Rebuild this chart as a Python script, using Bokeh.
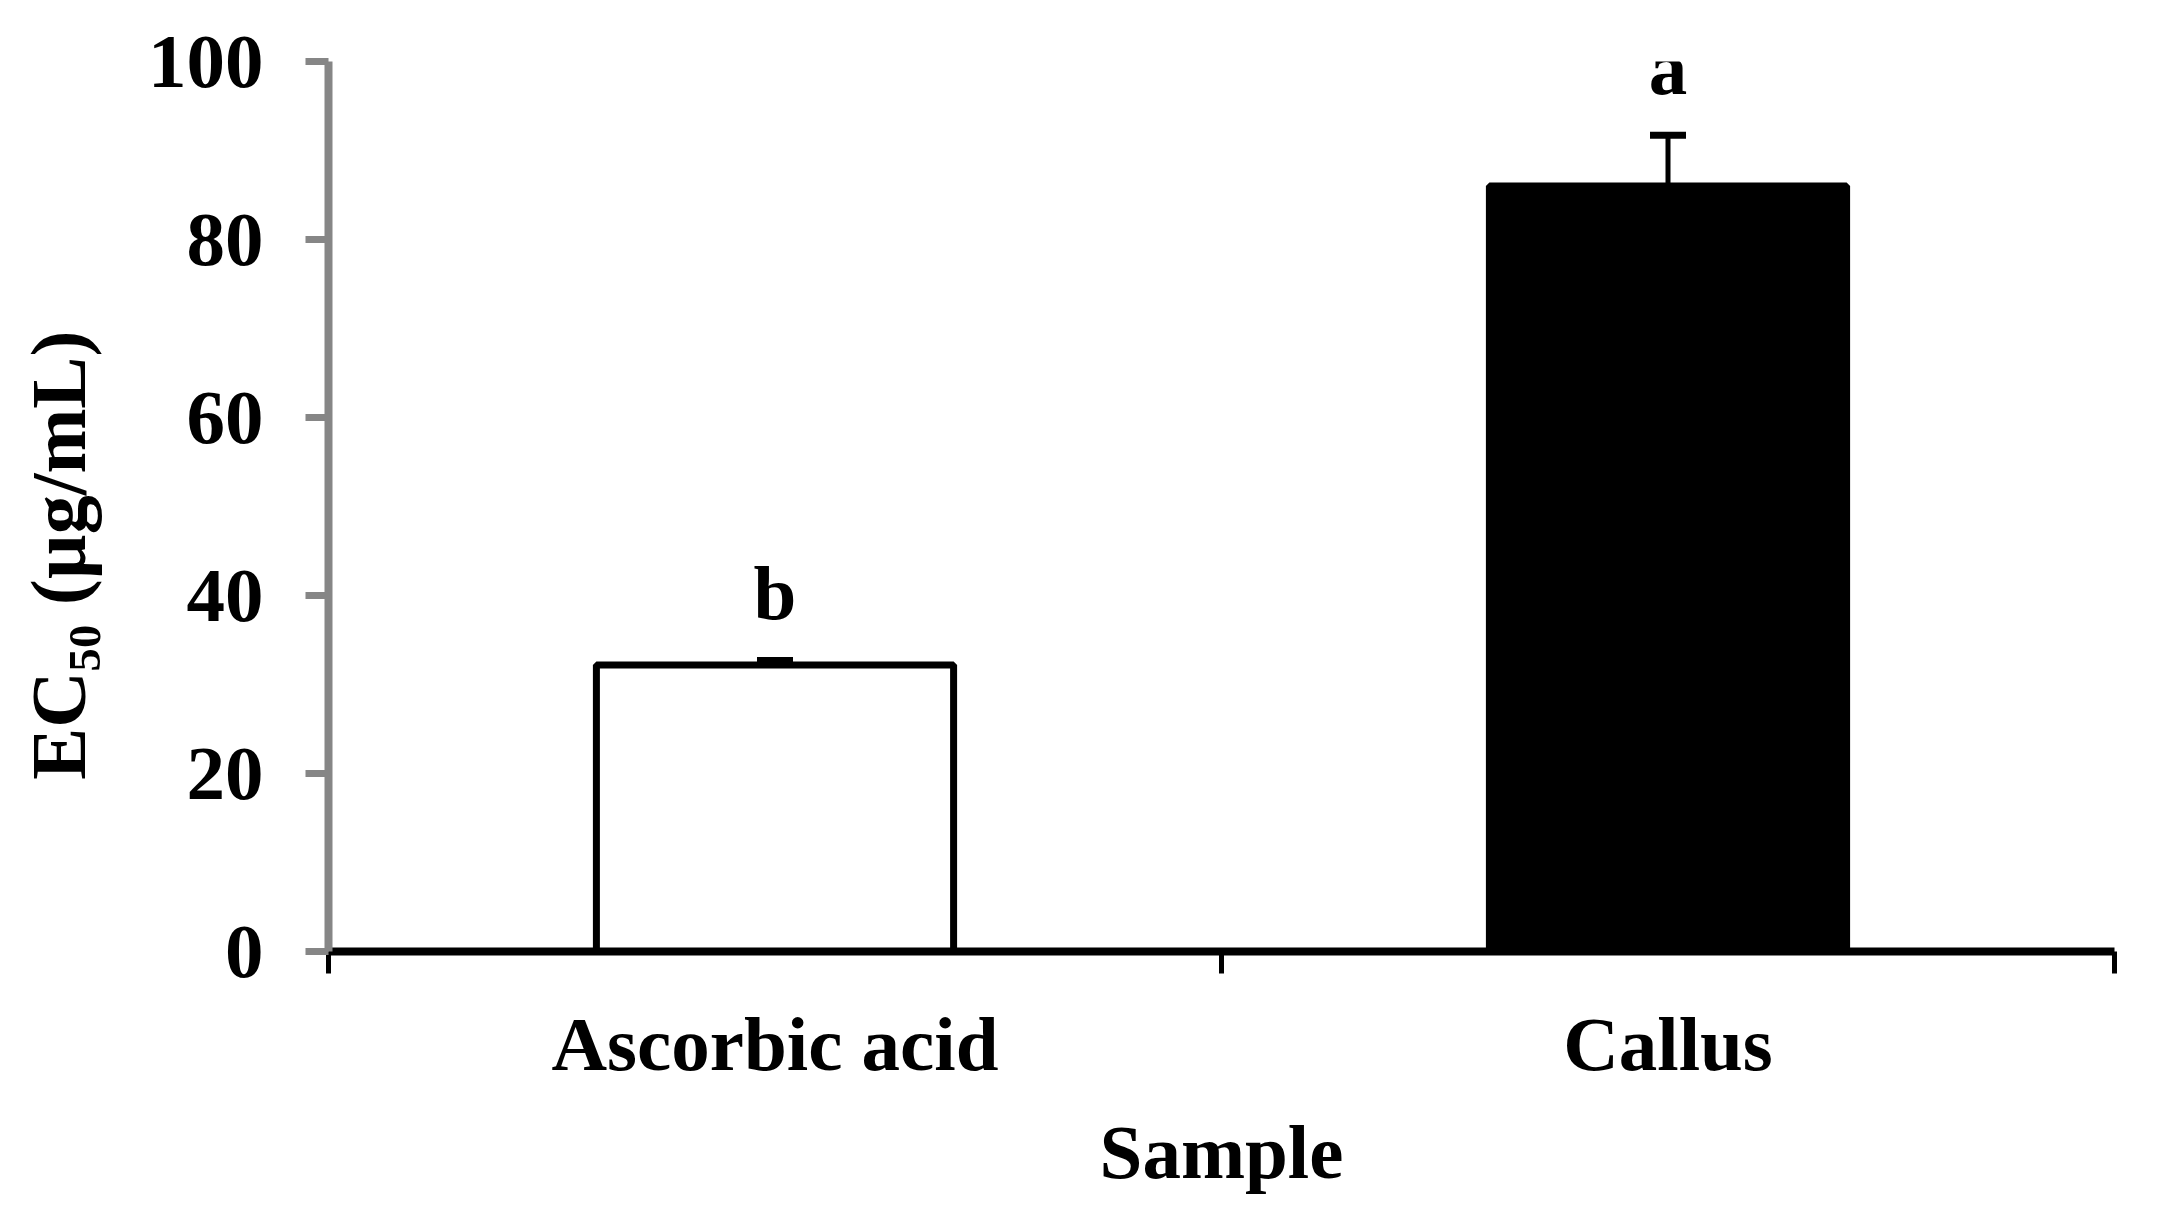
from bokeh.plotting import figure
from bokeh.models import Range1d, FixedTicker, ColumnDataSource, Whisker, TeeHead
from bokeh.core.properties import value
from bokeh.embed import file_html
from bokeh.resources import INLINE

# ---- data ----
categories = ["Ascorbic acid", "Callus"]
ec50 = [32.2, 86.0]
sd = [0.5, 5.7]
letters = ["b", "a"]
fills = ["white", "black"]
y_ticks = [0, 20, 40, 60, 80, 100]

FONT = "Liberation Serif"
GREY = "#868686"

xs = [i + 0.5 for i in range(len(categories))]
tops = [v + e for v, e in zip(ec50, sd)]
letter_y = [t + 7.6 for t in tops]

src = ColumnDataSource(dict(x=xs, top=ec50, upper=tops, fill=fills,
                            ly=letter_y, lt=letters))

p = figure(width=2150, height=1212, output_backend="svg", toolbar_location=None,
           x_range=Range1d(0, len(categories)), y_range=Range1d(0, 100),
           min_border_left=328, min_border_right=36, min_border_top=61,
           min_border_bottom=261)
p.outline_line_color = None
p.xgrid.visible = False
p.ygrid.visible = False
p.background_fill_color = "white"
p.border_fill_color = "white"

p.vbar(x="x", top="top", width=0.4, bottom=0, source=src, fill_color="fill",
       line_color="black", line_width=7)

w = Whisker(base="x", upper="upper", lower="top", source=src, line_color="black",
            line_width=5, upper_head=TeeHead(size=36, line_width=7, line_color="black"),
            lower_head=None)
p.add_layout(w)

p.text(x="x", y="ly", text="lt", source=src, text_align="center", text_baseline="alphabetic",
       text_font=value(FONT), text_font_style="bold", text_font_size="77px", text_color="black")

# y axis
ya = p.yaxis[0]
ya.ticker = FixedTicker(ticks=y_ticks)
ya.axis_line_color = GREY
ya.axis_line_width = 8
ya.major_tick_line_color = GREY
ya.major_tick_line_width = 7
ya.major_tick_in = 0
ya.major_tick_out = 23
ya.minor_tick_line_color = None
ya.major_label_text_font = FONT
ya.major_label_text_font_style = "bold"
ya.major_label_text_font_size = "77px"
ya.major_label_text_color = "black"
ya.major_label_standoff = 42
ya.axis_label = "EC\u2085\u2080 (\u00b5g/mL)\u00a0\u00a0\u00a0\u00a0\u00a0"
ya.axis_label_text_font = FONT
ya.axis_label_text_font_style = "bold"
ya.axis_label_text_font_size = "78px"
ya.axis_label_text_color = "black"
ya.axis_label_standoff = 43

# x axis
xa = p.xaxis[0]
xa.ticker = FixedTicker(ticks=xs, minor_ticks=list(range(len(categories) + 1)))
overrides = {}
for xv, c in zip(xs, categories):
    overrides[xv] = c
    overrides[str(xv)] = c
xa.major_label_overrides = overrides
xa.axis_line_color = "black"
xa.axis_line_width = 8
xa.major_tick_line_color = None
xa.major_tick_in = 0
xa.major_tick_out = 0
xa.minor_tick_line_color = "black"
xa.minor_tick_line_width = 5
xa.minor_tick_in = 0
xa.minor_tick_out = 22
xa.major_label_text_font = FONT
xa.major_label_text_font_style = "bold"
xa.major_label_text_font_size = "77px"
xa.major_label_text_color = "black"
xa.major_label_standoff = 27
xa.axis_label = "Sample"
xa.axis_label_text_font = FONT
xa.axis_label_text_font_style = "bold"
xa.axis_label_text_font_size = "77px"
xa.axis_label_text_color = "black"
xa.axis_label_standoff = 19

open("out.html", "w").write(file_html(p, INLINE))
